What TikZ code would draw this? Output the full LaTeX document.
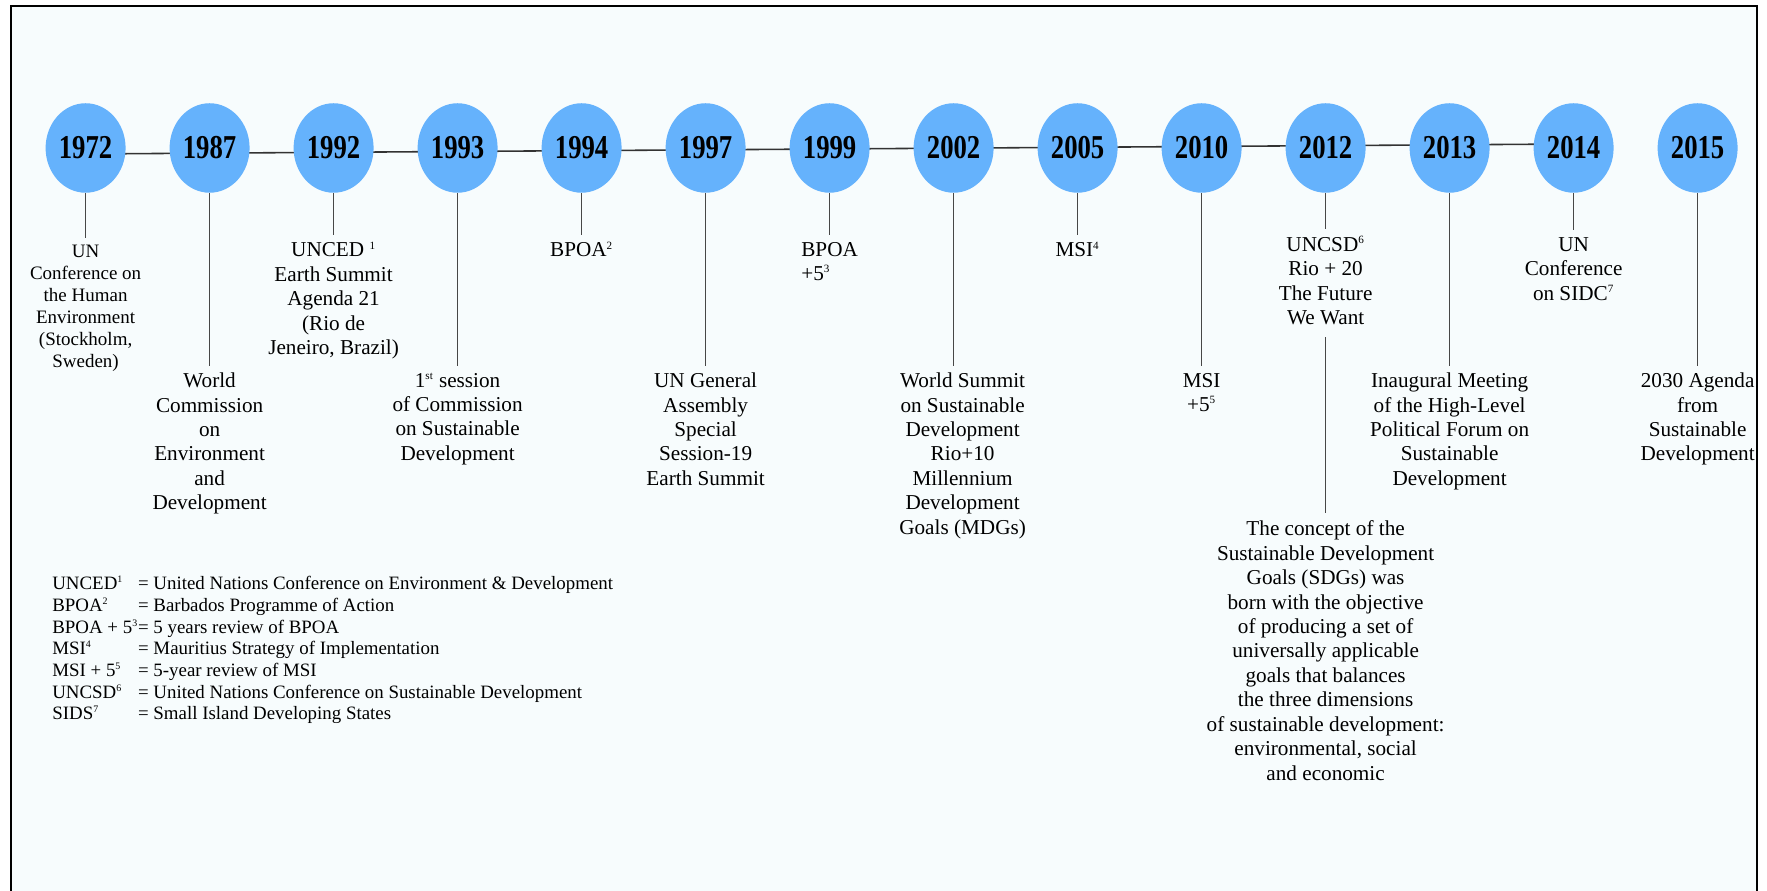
\documentclass[tikz,border=0pt]{standalone}
\usepackage{fontspec}
\setmainfont{Liberation Serif}
\newfontfamily\yearfont[FakeStretch=0.8]{Liberation Serif}
\usetikzlibrary{positioning,shapes.geometric,backgrounds}

\definecolor{yearblue}{RGB}{101,178,252}
\definecolor{paper}{RGB}{247,252,253}
\newcommand\fnum[1]{\textsuperscript{\scalebox{0.75}{#1}}}

\tikzset{
	yearnode/.style={ellipse, fill=yearblue, minimum width=1.6cm, minimum height=1.79cm,
		inner sep=0pt, font=\yearfont\bfseries\fontsize{19}{20}\selectfont},
	lbl/.style={align=center, inner sep=4pt, font=\fontsize{12.06}{13.9}\selectfont},
	stemline/.style={draw=black!72, line width=.7pt},
	tline/.style={draw=black!80, line width=.9pt},
}

\begin{document}
\begin{tikzpicture}
	\useasboundingbox (0,0) rectangle (35.34,17.82);
	\def\ty{14.86}
	\def\sh{0.83cm}
	\def\lg{3.45cm}

	% YEARS
	\foreach \yr [count=\i from 0] in {1972,1987,1992,1993,1994,1997,1999,2002,2005,2010,2012,2013,2014,2015}
		\node[yearnode] (y\yr) at ({1.712+2.48*\i},\ty) {\yr};

	% FRAME AND TIME LINE
	\begin{scope}[on background layer]
		\draw[line width=1.4pt, fill=paper] (0.22,-0.5) rectangle (35.14,17.7);
		\draw[tline] ([yshift=-.12cm]y1972.center) -- ([yshift=.08cm]y2014.center);
	\end{scope}

	% EVENTS
	\node[lbl, font=\fontsize{10.8}{12.5}\selectfont, below=0.9cm of y1972] (t1972) {UN\\Conference on\\the Human\\Environment\\(Stockholm,\\Sweden)};
	\node[lbl, below=\lg of y1987] (t1987) {World\\Commission\\on\\Environment\\and\\Development};
	\node[lbl, below=\sh of y1992] (t1992) {UNCED \fnum{1}\\Earth Summit\\Agenda 21\\(Rio de\\Jeneiro, Brazil)};
	\node[lbl, below=\lg of y1993] (t1993) {1\fnum{st} session\\of Commission\\on Sustainable\\Development};
	\node[lbl, below=\sh of y1994] (t1994) {BPOA\fnum{2}};
	\node[lbl, below=\lg of y1997] (t1997) {UN General\\Assembly\\Special\\Session-19\\Earth Summit};
	\node[lbl, align=left, below=\sh of y1999] (t1999) {BPOA\\+5\fnum{3}};
	\node[lbl, below=\lg of y2002, xshift=.18cm] (t2002) {World Summit\\on Sustainable\\Development\\Rio+10\\Millennium\\Development\\Goals (MDGs)};
	\node[lbl, below=\sh of y2005] (t2005) {MSI\fnum{4}};
	\node[lbl, below=\lg of y2010] (t2010) {MSI\\+5\fnum{5}};
	\node[lbl, below=0.72cm of y2012] (t2012) {UNCSD\fnum{6}\\Rio + 20\\The Future\\We Want};
	\node[lbl, below=\lg of y2013] (t2013) {Inaugural Meeting\\of the High-Level\\Political Forum on\\Sustainable\\Development};
	\node[lbl, below=0.74cm of y2014] (t2014) {UN\\Conference\\on SIDC\fnum{7}};
	\node[lbl, below=\lg of y2015] (t2015) {2030 Agenda\\from\\Sustainable\\Development};

	% SDGs
	\node[lbl, below=3.62cm of t2012] (sdg) {The concept of the\\Sustainable Development\\Goals (SDGs) was\\born with the objective\\of producing a set of\\universally applicable\\goals that balances\\the three dimensions\\of sustainable development:\\environmental, social\\and economic};

	% STEMS
	\foreach \yr in {1972,1987,1992,1993,1994,1997,1999,2002,2005,2010,2012,2013,2014,2015}
		\draw[stemline] (y\yr) -- (y\yr |- t\yr.north);
	\draw[stemline] ([yshift=-.1cm]t2012.south) -- (sdg);

	% LEGEND
	\node[anchor=north west, inner sep=0pt, font=\fontsize{10.75}{12.3}\selectfont] (legend) at (1.04,6.33) {%
		\begin{tabular}{@{}l@{}l@{}}
			UNCED\fnum{1} & = United Nations Conference on Environment \& Development\\
			BPOA\fnum{2} & = Barbados Programme of Action\\
			BPOA + 5\fnum{3} & = 5 years review of BPOA\\
			MSI\fnum{4} & = Mauritius Strategy of Implementation\\
			MSI + 5\fnum{5} & = 5-year review of MSI\\
			UNCSD\fnum{6} & = United Nations Conference on Sustainable Development\\
			SIDS\fnum{7} & = Small Island Developing States
		\end{tabular}};
\end{tikzpicture}
\end{document}
